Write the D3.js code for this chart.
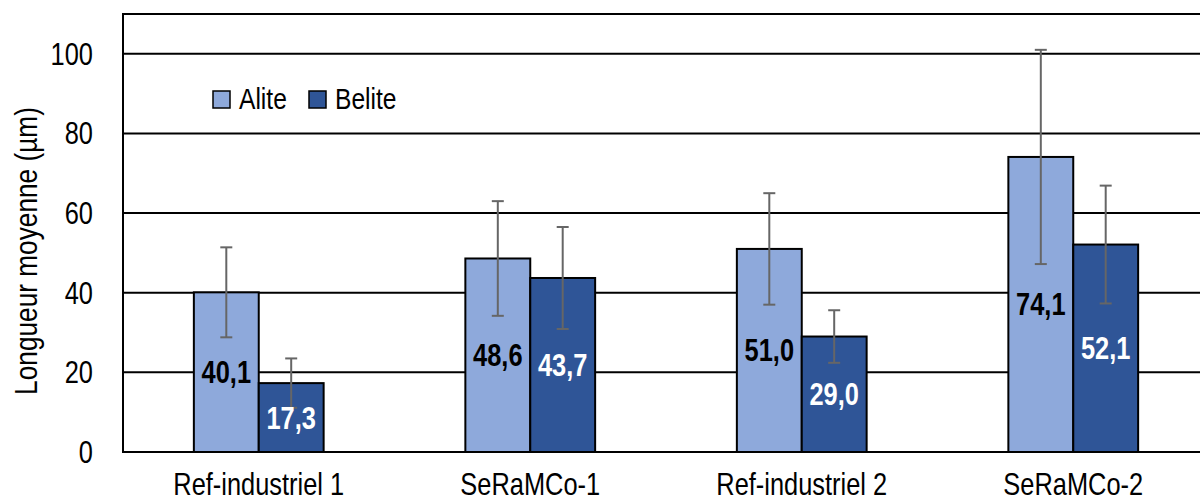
<!DOCTYPE html>
<html>
<head>
<meta charset="utf-8">
<script src="https://cdn.jsdelivr.net/npm/d3@7/dist/d3.min.js"></script>
<style>
  html, body { margin: 0; padding: 0; background: #fff; }
  svg { display: block; }
  text { font-family: "Liberation Sans", Arial, sans-serif; }
</style>
</head>
<body>
<svg id="chart" width="1200" height="501"></svg>
<script>
// ---- data ----
const categories = ["Ref-industriel 1", "SeRaMCo-1", "Ref-industriel 2", "SeRaMCo-2"];
const seriesNames = ["Alite", "Belite"];
const aliteValues = [40.1, 48.6, 51.0, 74.1];
const beliteValues = [17.3, 43.7, 29.0, 52.1];
const aliteErrors = [11.3, 14.4, 14.0, 26.9];
const beliteErrors = [6.2, 12.8, 6.6, 14.8];
const yTicks = [0, 20, 40, 60, 80, 100];
const yTitle = "Longueur moyenne (µm)";

// ---- layout ----
const svg = d3.select("#chart");
const mLeft = 123, mRight = 1209, mTop = 14, mBottom = 452;
const colors = { Alite: "#8EA9DB", Belite: "#2F5597" };
const labelColors = { Alite: "#000", Belite: "#fff" };
const SX = 0.82; // narrow font horizontal scale

const x0 = d3.scaleBand().domain(categories).range([mLeft, mRight])
  .paddingInner(0.522).paddingOuter(0.261);
const x1 = d3.scaleBand().domain(seriesNames).range([0, x0.bandwidth()]).padding(0);
const y = d3.scaleLinear().domain([0, 110]).range([mBottom, mTop]);

const rows = categories.map((c, i) => ({
  cat: c,
  vals: [
    { s: "Alite", v: aliteValues[i], e: aliteErrors[i] },
    { s: "Belite", v: beliteValues[i], e: beliteErrors[i] }
  ]
}));

function ntext(g, x, yy, str, opts = {}) {
  return g.append("text")
    .attr("transform", `translate(${x},${yy})${opts.rotate ? " rotate(" + opts.rotate + ")" : ""} scale(${SX},1)`)
    .attr("text-anchor", opts.anchor || "middle")
    .attr("font-size", opts.size || 31)
    .attr("font-weight", opts.weight || "normal")
    .attr("fill", opts.fill || "#000")
    .text(str);
}

// gridlines
svg.append("g").selectAll("line").data(yTicks.filter(d => d > 0)).join("line")
  .attr("x1", mLeft).attr("x2", mRight)
  .attr("y1", d => y(d)).attr("y2", d => y(d))
  .attr("stroke", "#000").attr("stroke-width", 2);

// plot border
svg.append("rect").attr("x", mLeft).attr("y", mTop)
  .attr("width", mRight - mLeft).attr("height", mBottom - mTop)
  .attr("fill", "none").attr("stroke", "#000").attr("stroke-width", 2);

// bars
const groups = svg.append("g").selectAll("g").data(rows).join("g")
  .attr("transform", d => `translate(${x0(d.cat)},0)`);

groups.selectAll("rect").data(d => d.vals).join("rect")
  .attr("x", d => x1(d.s)).attr("width", x1.bandwidth())
  .attr("y", d => y(d.v)).attr("height", d => y(0) - y(d.v))
  .attr("fill", d => colors[d.s]).attr("stroke", "#000").attr("stroke-width", 2);

// error bars
const cap = 6;
groups.each(function(d) {
  const g = d3.select(this);
  d.vals.forEach(v => {
    const cx = x1(v.s) + x1.bandwidth() / 2;
    const yt = y(v.v + v.e), yb = y(v.v - v.e);
    const col = "#666";
    g.append("line").attr("x1", cx).attr("x2", cx).attr("y1", yt).attr("y2", yb)
      .attr("stroke", col).attr("stroke-width", 2);
    g.append("line").attr("x1", cx - cap).attr("x2", cx + cap).attr("y1", yt).attr("y2", yt)
      .attr("stroke", col).attr("stroke-width", 2);
    g.append("line").attr("x1", cx - cap).attr("x2", cx + cap).attr("y1", yb).attr("y2", yb)
      .attr("stroke", col).attr("stroke-width", 2);
  });
});

// data labels
groups.each(function(d) {
  const g = d3.select(this);
  d.vals.forEach(v => {
    const cx = x1(v.s) + x1.bandwidth() / 2;
    const cy = (y(v.v) + y(0)) / 2;
    ntext(g, cx, cy + 11, v.v.toFixed(1).replace(".", ","),
      { size: 31, weight: "bold", fill: labelColors[v.s] });
  });
});

// y tick labels
const yg = svg.append("g");
yTicks.forEach(t => ntext(yg, 93, y(t) + 11, String(t), { anchor: "end", size: 31 }));

// x category labels
const xg = svg.append("g");
categories.forEach(c => ntext(xg, x0(c) + x0.bandwidth() / 2, 495, c, { size: 31 }));

// y title
ntext(svg, 37, (mTop + mBottom) / 2 + 18, yTitle, { rotate: -90, size: 32 });

// legend
const lg = svg.append("g");
const legendItems = [{ s: "Alite", x: 213 }, { s: "Belite", x: 309 }];
legendItems.forEach(it => {
  lg.append("rect").attr("x", it.x).attr("y", 91).attr("width", 17).attr("height", 17)
    .attr("fill", colors[it.s]).attr("stroke", "#000").attr("stroke-width", 1.5);
  ntext(lg, it.x + 26, 109, it.s, { anchor: "start", size: 30 });
});
</script>
</body>
</html>
